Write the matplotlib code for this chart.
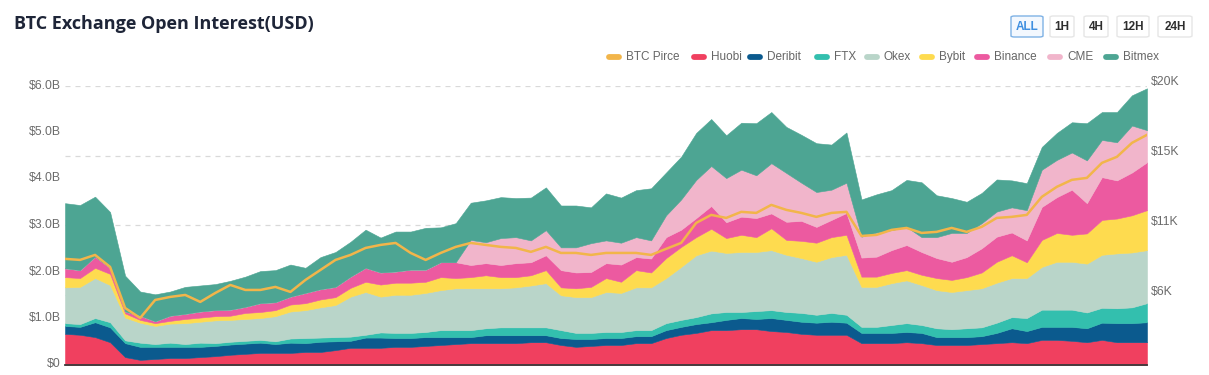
import numpy as np
import matplotlib
matplotlib.use("Agg")
import matplotlib.pyplot as plt
from matplotlib.lines import Line2D
from matplotlib.patches import FancyBboxPatch
import matplotlib.transforms as mtransforms

# ---------------- data (open interest in $B, BTC price in $K) ----------------
huobi = [0.67,0.65,0.60,0.49,0.17,0.11,0.13,0.15,0.15,0.17,
         0.19,0.22,0.24,0.26,0.26,0.26,0.28,0.28,0.32,0.37,
         0.37,0.37,0.39,0.39,0.41,0.43,0.45,0.47,0.47,0.47,
         0.47,0.49,0.49,0.43,0.39,0.41,0.43,0.43,0.47,0.47,
         0.58,0.65,0.69,0.75,0.75,0.77,0.77,0.73,0.71,0.67,
         0.65,0.65,0.65,0.47,0.47,0.47,0.49,0.47,0.43,0.43,
         0.43,0.45,0.47,0.49,0.47,0.54,0.54,0.52,0.49,0.54,
         0.49,0.49,0.49]
deribit = [0.17,0.17,0.32,0.32,0.30,0.28,0.26,0.24,0.24,0.22,
           0.22,0.22,0.22,0.22,0.19,0.22,0.19,0.22,0.19,0.15,
           0.22,0.22,0.19,0.19,0.19,0.17,0.15,0.13,0.17,0.17,
           0.17,0.15,0.15,0.15,0.17,0.15,0.15,0.15,0.15,0.15,
           0.17,0.17,0.19,0.17,0.22,0.24,0.22,0.28,0.26,0.26,
           0.26,0.28,0.26,0.22,0.22,0.22,0.22,0.22,0.17,0.17,
           0.17,0.17,0.22,0.30,0.26,0.28,0.28,0.30,0.30,0.37,
           0.41,0.41,0.43]
ftx = [0.06,0.06,0.09,0.11,0.06,0.09,0.06,0.09,0.06,0.09,
       0.06,0.06,0.06,0.06,0.06,0.09,0.11,0.09,0.09,0.09,
       0.06,0.11,0.11,0.11,0.11,0.15,0.15,0.15,0.15,0.17,
       0.17,0.17,0.17,0.17,0.13,0.13,0.13,0.13,0.13,0.13,
       0.15,0.15,0.15,0.19,0.17,0.13,0.17,0.17,0.17,0.19,
       0.17,0.19,0.17,0.13,0.13,0.17,0.19,0.17,0.19,0.17,
       0.19,0.19,0.22,0.24,0.28,0.37,0.37,0.37,0.34,0.32,
       0.32,0.34,0.41]
okex = [0.77,0.80,0.86,0.80,0.49,0.43,0.39,0.41,0.45,0.45,
        0.49,0.47,0.47,0.47,0.54,0.58,0.60,0.65,0.69,0.86,
        0.92,0.77,0.82,0.82,0.84,0.86,0.90,0.90,0.86,0.84,
        0.86,0.90,0.95,0.75,0.77,0.77,0.86,0.84,0.92,0.92,
        0.97,1.14,1.33,1.35,1.27,1.29,1.27,1.29,1.23,1.18,
        1.14,1.20,1.29,0.86,0.86,0.90,0.92,0.86,0.82,0.80,
        0.82,0.84,0.86,0.84,0.86,0.92,1.03,1.03,1.05,1.14,
        1.18,1.18,1.14]
bybit = [0.22,0.19,0.22,0.24,0.09,0.06,0.06,0.06,0.09,0.09,
         0.09,0.09,0.13,0.13,0.13,0.15,0.15,0.17,0.17,0.19,
         0.22,0.26,0.26,0.26,0.24,0.28,0.22,0.24,0.28,0.24,
         0.22,0.22,0.28,0.17,0.19,0.22,0.30,0.24,0.37,0.32,
         0.43,0.43,0.39,0.47,0.32,0.37,0.32,0.47,0.32,0.37,
         0.41,0.43,0.43,0.22,0.22,0.22,0.22,0.22,0.26,0.26,
         0.28,0.34,0.45,0.49,0.34,0.58,0.62,0.58,0.65,0.75,
         0.75,0.80,0.86]
binance = [0.19,0.17,0.24,0.13,0.04,0.09,0.04,0.11,0.11,0.13,
           0.13,0.13,0.13,0.19,0.17,0.17,0.22,0.22,0.22,0.24,
           0.30,0.26,0.24,0.28,0.26,0.32,0.34,0.26,0.26,0.26,
           0.30,0.28,0.32,0.37,0.34,0.32,0.32,0.37,0.28,0.30,
           0.45,0.37,0.41,0.49,0.34,0.39,0.41,0.32,0.39,0.43,
           0.34,0.37,0.47,0.41,0.43,0.49,0.54,0.49,0.43,0.39,
           0.43,0.52,0.54,0.49,0.47,0.71,0.77,0.97,0.65,0.92,
           0.82,0.92,1.03]
cme = [0.0]*27 + [0.54,0.45,0.58,0.56,0.47,0.54,0.49,0.54,0.62,0.49,
                  0.47,0.43,0.39,0.47,0.65,0.82,0.86,0.95,1.01,0.92,
                  1.08,1.05,0.82,0.75,0.65,0.65,0.45,0.52,0.43,0.39,
                  0.32,0.45,0.62,0.52,0.54,0.54,0.54,0.65,0.80,0.80,
                  0.80,0.92,0.80,0.82,1.01,0.69]
bitmex = [1.40,1.40,1.29,1.20,0.77,0.52,0.58,0.52,0.58,0.56,
          0.56,0.62,0.65,0.69,0.69,0.69,0.54,0.69,0.75,0.75,
          0.82,0.75,0.86,0.82,0.90,0.75,0.84,0.80,0.90,0.88,
          0.84,0.92,0.92,0.90,0.90,0.77,1.01,0.97,1.01,1.12,
          0.92,0.92,1.01,1.01,0.92,1.01,1.12,1.10,0.99,1.03,
          1.05,0.97,1.08,0.80,0.82,0.86,1.01,1.18,0.90,0.75,
          0.67,0.65,0.69,0.58,0.58,0.49,0.58,0.65,0.80,0.60,
          0.65,0.65,0.90]
btc_price = [8.60,8.53,8.86,8.07,5.36,4.70,5.89,6.09,6.22,5.76,
             6.35,6.88,6.55,6.55,6.75,6.42,7.21,7.87,8.53,8.86,
             9.32,9.52,9.65,8.99,8.53,8.99,9.39,9.65,9.52,9.39,
             9.32,9.06,9.39,8.99,8.99,8.86,8.99,8.99,8.99,8.86,
             9.26,9.65,10.97,11.50,11.30,11.70,11.63,12.16,11.83,11.63,
             11.37,11.63,11.70,10.11,10.18,10.51,10.64,10.31,10.38,10.64,
             10.38,10.71,11.30,11.37,11.50,12.69,13.35,13.81,13.94,14.93,
             15.33,16.25,16.78]

series_names = ["Huobi", "Deribit", "FTX", "Okex", "Bybit", "Binance", "CME", "Bitmex"]
series_vals = [huobi, deribit, ftx, okex, bybit, binance, cme, bitmex]
series_colors = ["#f0405f", "#0b5a8e", "#33bfae", "#b9d5c9", "#fedb4f",
                 "#ec5aa0", "#f1b5cb", "#4da593"]
price_color = "#f2b54a"

left_ticks = [0, 1, 2, 3, 4, 5, 6]
left_labels = ["$0", "$1.0B", "$2.0B", "$3.0B", "$4.0B", "$5.0B", "$6.0B"]
right_lim = (1.6, 20.0)
right_ticks = [6.2, 10.8, 15.4, 20.0]
buttons = ["ALL", "1H", "4H", "12H", "24H"]

W, H = 1209, 375
fig = plt.figure(figsize=(W / 100, H / 100), dpi=100)
fig.patch.set_facecolor("white")

ax = fig.add_axes([65 / W, 10 / H, 1082 / W, 279 / H])
x = np.arange(len(huobi))
polys = ax.stackplot(x, *series_vals, colors=series_colors, linewidth=0.4, zorder=2)
for p, c in zip(polys, series_colors):
    p.set_edgecolor(c)
ax.set_xlim(x[0], x[-1])
ax.set_ylim(0, 6)
for s in ["top", "left", "right"]:
    ax.spines[s].set_visible(False)
ax.spines["bottom"].set_color("#3a3a3a")
ax.spines["bottom"].set_linewidth(1.3)
ax.set_xticks([])
ax.set_yticks(left_ticks)
ax.set_yticklabels(left_labels)
ax.tick_params(axis="y", length=0, pad=3, labelsize=8.8, labelcolor="#6b6b6b")
for lab in ax.get_yticklabels():
    lab.set_fontfamily(["Liberation Sans", "DejaVu Sans"])

ax2 = ax.twinx()
ax2.set_ylim(*right_lim)
ax2.set_yticks(right_ticks)
ax2.yaxis.set_major_formatter(matplotlib.ticker.FuncFormatter(lambda v, p: f"${v:.0f}K"))
ax2.tick_params(axis="y", length=0, pad=3, labelsize=8.8, labelcolor="#6b6b6b")
for s in ["top", "left", "right", "bottom"]:
    ax2.spines[s].set_visible(False)
ax2.plot(x, btc_price, color=price_color, lw=1.8, zorder=5, solid_joinstyle="round")

# gridlines at right-axis ticks, drawn behind the areas
for t in right_ticks:
    lv = (t - right_lim[0]) / (right_lim[1] - right_lim[0]) * 6
    ax.axhline(lv, color="#d9d9d9", lw=0.9, ls=(0, (4, 4)), zorder=1)

off_r = mtransforms.ScaledTranslation(0, 5 / 100, fig.dpi_scale_trans)
for lab in ax2.get_yticklabels():
    lab.set_fontfamily(["Liberation Sans", "DejaVu Sans"])
    lab.set_transform(lab.get_transform() + off_r)
off_l = mtransforms.ScaledTranslation(0, 2 / 100, fig.dpi_scale_trans)
for lab in ax.get_yticklabels():
    lab.set_transform(lab.get_transform() + off_l)

# title
fig.text(14 / W, 1 - 24 / H, "BTC Exchange Open Interest(USD)", fontsize=13,
         fontweight="bold", color="#1e2538", va="center", ha="left",
         family=["Open Sans", "DejaVu Sans"])

# buttons
btn_x = [(1011, 1043), (1050, 1074), (1084, 1108), (1117, 1149), (1158, 1192)]
for (bx0, bx1), label in zip(btn_x, buttons):
    active = label == "ALL"
    patch = FancyBboxPatch((bx0 / W, 1 - 37 / H), (bx1 - bx0) / W, 21 / H,
                           boxstyle="round,pad=0,rounding_size=0.003",
                           transform=fig.transFigure,
                           fc="#f3f8fe" if active else "white",
                           ec="#7fb2e5" if active else "#e6e6e6", lw=1.0)
    fig.add_artist(patch)
    fig.text((bx0 + bx1) / 2 / W, 1 - 26.5 / H, label, fontsize=8.5, fontweight="bold",
             ha="center", va="center", color="#3f8fe0" if active else "#2e2e2e",
             family=["Liberation Sans", "DejaVu Sans"])

# legend
leg_items = [("BTC Pirce", price_color, 607)] + [
    (n, c, px) for n, c, px in zip(series_names, series_colors,
                                   [692, 748, 815, 865, 920, 975, 1048, 1104])]
ly = 1 - 57 / H
for name, col, px in leg_items:
    fig.add_artist(Line2D([(px + 2) / W, (px + 12) / W], [ly, ly], lw=4.2, color=col,
                          solid_capstyle="round", transform=fig.transFigure))
    fig.text((px + 19) / W, ly, name, fontsize=8.5, color="#666666", va="center",
             ha="left", family=["Liberation Sans", "DejaVu Sans"])

fig.savefig("out.png", dpi=100)
